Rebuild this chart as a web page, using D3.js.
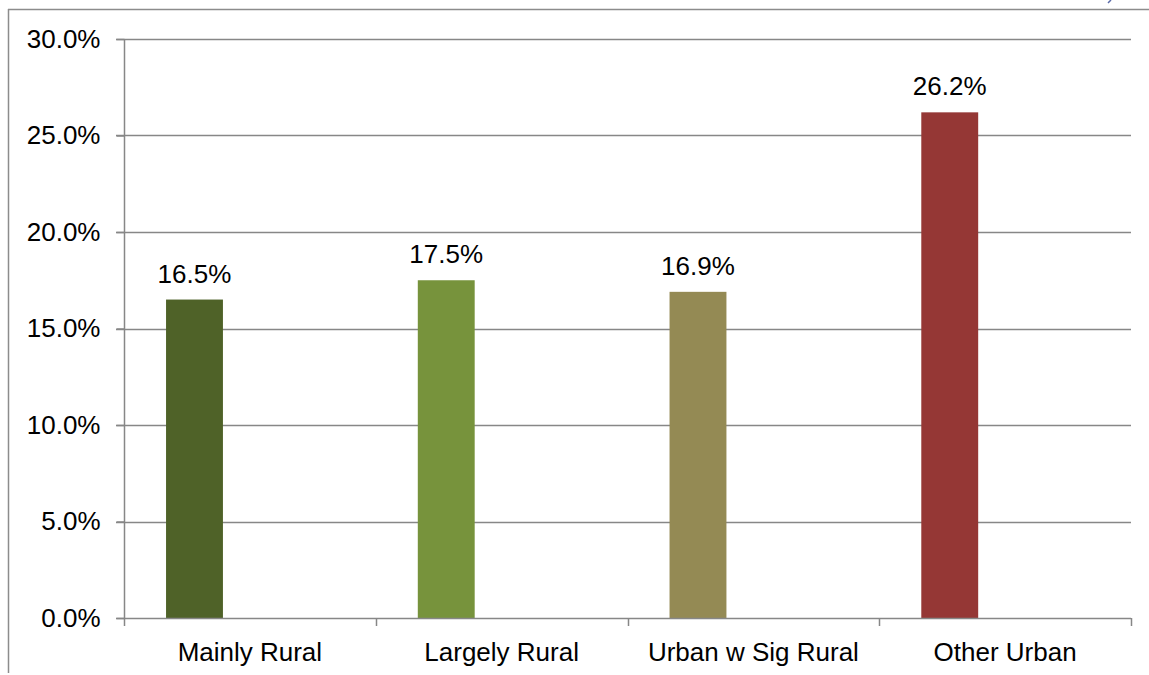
<!DOCTYPE html>
<html>
<head>
<meta charset="utf-8">
<script src="https://cdn.jsdelivr.net/npm/d3@7"></script>
<style>
  html, body { margin: 0; padding: 0; background: #fff; }
  svg { display: block; font-family: "Liberation Sans", Arial, sans-serif; }
</style>
</head>
<body>
<svg id="chart" width="1149" height="675"></svg>
<script>
// Share of population by rural/urban classification
const categories = ["Mainly Rural", "Largely Rural", "Urban w Sig Rural", "Other Urban"];
const values = [16.5, 17.5, 16.9, 26.2];
const barColors = ["#4F6228", "#77933C", "#948A54", "#953735"];
const yTicks = [0, 5, 10, 15, 20, 25, 30];

(function () {
const svg = d3.select("#chart");
const W = 1149;
const plotLeft = 124, plotRight = 1131, plotTop = 39, plotBottom = 618;
const gridColor = "#878787";
const fontSize = 26;

// outer frame (top and left edges)
svg.append("line").attr("x1", 8).attr("x2", W).attr("y1", 9.5).attr("y2", 9.5)
  .attr("stroke", "#8c8c8c").attr("stroke-width", 1.5);
svg.append("line").attr("x1", 8.5).attr("x2", 8.5).attr("y1", 9).attr("y2", 673)
  .attr("stroke", "#8c8c8c").attr("stroke-width", 1.5);
// small stroke at the top-right corner
svg.append("line").attr("x1", 1108).attr("y1", 3).attr("x2", 1111).attr("y2", 0)
  .attr("stroke", "#5a6aa8").attr("stroke-width", 1.5);

const x = d3.scaleBand().domain(categories).range([plotLeft, plotRight]).padding(0);
const y = d3.scaleLinear().domain([0, 30]).range([plotBottom, plotTop]);

// horizontal gridlines with tick extension
svg.append("g").selectAll("line").data(yTicks.filter(t => t > 0)).join("line")
  .attr("x1", plotLeft - 8).attr("x2", plotRight)
  .attr("y1", d => Math.round(y(d)) + 0.5).attr("y2", d => Math.round(y(d)) + 0.5)
  .attr("stroke", gridColor).attr("stroke-width", 1.5);

// y axis
const yAxis = d3.axisLeft(y).tickValues(yTicks).tickSize(8).tickPadding(16)
  .tickFormat(d => d.toFixed(1) + "%");
const gy = svg.append("g").attr("transform", `translate(${plotLeft + 0.5},0)`).call(yAxis);
gy.select(".domain").attr("stroke", gridColor).attr("stroke-width", 1.5)
  .attr("d", `M0,${plotTop}V${plotBottom}`);
gy.selectAll(".tick line").attr("stroke", gridColor).attr("stroke-width", 1.5);
gy.selectAll(".tick text").attr("font-size", fontSize).attr("fill", "#000")
  .attr("font-family", "Liberation Sans, Arial, sans-serif");

// bars
const bw = x.bandwidth();
svg.append("g").selectAll("rect").data(categories).join("rect")
  .attr("x", d => x(d) + bw * 0.167)
  .attr("width", bw * 0.226)
  .attr("y", (d, i) => y(values[i]))
  .attr("height", (d, i) => y(0) - y(values[i]))
  .attr("fill", (d, i) => barColors[i]);

// value labels
svg.append("g").selectAll("text").data(categories).join("text")
  .attr("x", d => x(d) + bw * 0.167 + bw * 0.113)
  .attr("y", (d, i) => y(values[i]) - 17)
  .attr("text-anchor", "middle")
  .attr("font-size", fontSize).attr("fill", "#000")
  .text((d, i) => values[i].toFixed(1) + "%");

// x axis
const xAxis = d3.axisBottom(x).tickSize(0).tickPadding(0);
const gx = svg.append("g").attr("transform", `translate(0,${plotBottom + 0.5})`).call(xAxis);
gx.select(".domain").attr("stroke", gridColor).attr("stroke-width", 1.5)
  .attr("d", `M${plotLeft - 8},0H${plotRight}`);
gx.selectAll(".tick text").attr("font-size", fontSize).attr("fill", "#000")
  .attr("font-family", "Liberation Sans, Arial, sans-serif")
  .attr("dy", null).attr("y", 42);

// category boundary ticks
const bounds = categories.map(c => x(c)).concat([plotRight]);
svg.append("g").selectAll("line").data(bounds).join("line")
  .attr("x1", d => Math.round(d) + 0.5).attr("x2", d => Math.round(d) + 0.5)
  .attr("y1", plotBottom).attr("y2", plotBottom + 8)
  .attr("stroke", gridColor).attr("stroke-width", 1.5);
})();
</script>
</body>
</html>
